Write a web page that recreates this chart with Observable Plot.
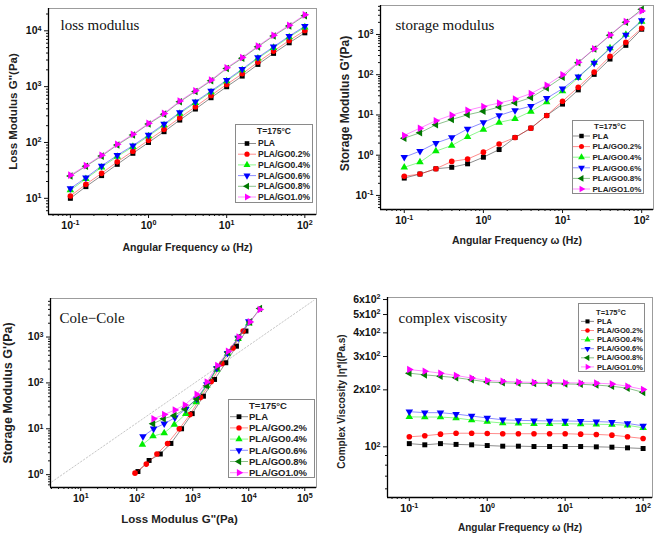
<!DOCTYPE html>
<html><head><meta charset="utf-8">
<script src="https://cdn.jsdelivr.net/npm/d3@7"></script>
<script src="https://cdn.jsdelivr.net/npm/@observablehq/plot@0.6"></script>
<style>
body{margin:0;background:#fff;}
#chart{position:relative;width:661px;height:534px;overflow:hidden;background:#fff;}
#chart svg{position:absolute;}
</style></head><body><div id="chart"></div>
<script>
// ---------- data ----------
const seriesNames = ["PLA","PLA/GO0.2%","PLA/GO0.4%","PLA/GO0.6%","PLA/GO0.8%","PLA/GO1.0%"];
const seriesColors = ["#000000","#ff0000","#00ee00","#0000ff","#007800","#ff00ff"];
const legendTitle = "T=175°C";
const freq = [0.1,0.158,0.251,0.398,0.631,1,1.58,2.51,3.98,6.31,10,15.8,25.1,39.8,63.1,100];

// loss modulus G'' (Pa)
const lossPLA  = [10,16.2,25.5,40.6,64,100,156,252,397,633,996,1545,2500,3940,6100,9200];
const lossGO02 = [11,17.8,28,45,70,110,172,277,437,697,1095,1700,2750,4330,6710,10100];
const lossGO04 = [14,22.3,36,56,84,130,205,330,515,800,1255,1980,3200,4980,7700,11600];
const lossGO06 = [15,23.4,38,59,88,136,214,346,537,834,1310,2060,3330,5180,8030,12100];
const lossGO08 = [25,37.5,57,90,136,214,322,535,820,1270,2110,3230,5160,8100,12200,18700];
const lossGO10 = [26,38.5,59,93,140,220,332,552,845,1310,2180,3330,5320,8360,12600,19300];

// storage modulus G' (Pa)
const storPLA  = [0.27,0.34,0.46,0.50,0.61,0.89,1.38,2.75,4.7,9.7,18.6,42,102,245,537,1350];
const storGO02 = [0.30,0.34,0.46,0.70,0.80,1.19,1.9,2.75,4.7,9.7,22,49,116,286,638,1430];
const storGO04 = [0.50,0.67,1.26,1.74,2.86,4.35,6.5,8.0,12.2,20.9,39,84,199,461,990,2090];
const storGO06 = [0.89,1.26,2.0,2.75,4.5,6.5,9.7,13,16.6,26,45,89,195,444,973,2250];
const storGO08 = [2.65,3.6,5.7,7.7,10.1,12.4,15.7,20,27,47,87,199,435,955,2010,4240];
const storGO10 = [3.1,4.7,7.2,9.9,13,16.3,19.7,24.8,34,55,100,203,444,973,2090,3850];

// complex viscosity |eta*| (Pa.s)
const viscPLA  = [104,102.5,104,103,102.5,101.6,100.8,100.8,100.4,100.4,100.4,100.4,100,99.6,98.8,98];
const viscGO02 = [113,114.4,116.7,118,118,117.7,117.3,117.3,117.3,117.3,117.3,116.7,116.3,115.3,113,110.7];
const viscGO04 = [144,143.7,143.7,142,138.5,135.8,133.6,133,132.5,132.5,132.5,132,131.6,131.2,130,126];
const viscGO06 = [153.4,151.5,151.5,149,145.5,142,139,138,137.5,137,137,136.5,136,135,133,129];
const viscGO08 = [245,240,236,232,226,220,218,216.5,216,216,215,214,212,209,204,194];
const viscGO10 = [256,251,245,238,231,224,222,220,219,219,218,217.5,217,215,209,201];

// Cole-Cole: G'' (x) vs G' (y)
const colePLAx  = [105,166,263,407,631,977,1550,2450,3890,6030,8910];
const colePLAy  = [1.17,2.04,2.82,4.79,10.0,21.4,51.3,119,275,631,1350];
const coleGO02x = [93,148,229,355,575,891,1380,2140,3310,5250,7940];
const coleGO02y = [1.08,1.70,2.82,4.79,10.0,20.4,47.9,107,263,575,1350];
const coleGO04x = [126,195,309,468,750,1150,1780,2690,4170,6460,10000];
const coleGO04y = [4.5,6.9,8.1,12.3,21.1,38,87,195,437,912,2000];
const coleGO06x = [129,200,309,479,750,1175,1780,2690,4170,6460,10000];
const coleGO06y = [6.8,10,12.9,17.4,26.9,44.7,93,209,447,955,2190];
const coleGO08x = [195,302,468,724,1175,1780,2750,4270,6610,10500,15800];
const coleGO08y = [12.9,16.6,19.5,26.9,44.7,87,219,468,1000,2140,4170];
const coleGO10x = [200,309,479,724,1175,1780,2750,4270,6610,10500,15800];
const coleGO10y = [16.6,20.4,25.7,33.1,56.2,105,240,490,1000,2140,3980];
const coleRefX = [2.7,145000];
const coleRefY = [0.63,6300];

// tick values
const freqTicks = [0.1,1,10,100];
const lossTicks = [10,100,1000,10000];
const storTicks = [0.1,1,10,100,1000];
const coleXTicks = [10,100,1000,10000,100000];
const coleYTicks = [1,10,100,1000];
const viscTicks = [100,200,300,400,500,600];
const viscTickLabels = ["10^2","2x10^2","3x10^2","4x10^2","5x10^2","6x10^2"];

// ---------- helpers ----------
const SQ3 = Math.sqrt(3);
function triSym(deg){
  const a = deg*Math.PI/180, c = Math.cos(a), s = Math.sin(a);
  return {draw(ctx, size){
    const y = -Math.sqrt(size/(SQ3*3));
    [[0,y*2],[-SQ3*y,-y],[SQ3*y,-y]].forEach(([px,py],i)=>{
      const X = px*c - py*s, Y = px*s + py*c;
      i ? ctx.lineTo(X,Y) : ctx.moveTo(X,Y);
    });
    ctx.closePath();
  }};
}
const seriesSymbols = [d3.symbolSquare, d3.symbolCircle, triSym(0), triSym(180), triSym(-90), triSym(90)];
function minors(lo, hi){
  const out = [];
  for (let e = Math.floor(Math.log10(lo)); e <= Math.ceil(Math.log10(hi)); e++)
    for (let m = 2; m <= 9; m++){ const v = m*Math.pow(10,e); if (v>=lo && v<=hi) out.push(v); }
  return out;
}
const decade = v => "10^" + Math.round(Math.log10(v));
const SANS = '"Liberation Sans", Arial, "DejaVu Sans", sans-serif';
const SERIF = '"Liberation Serif", "Times New Roman", serif';

function supify(svg){
  d3.select(svg).selectAll("text").each(function(){
    const t = this.textContent;
    if (!t.includes("^")) return;
    const [base, exp] = t.split("^");
    const sel = d3.select(this); sel.text(null);
    sel.append("tspan").text(base);
    sel.append("tspan").attr("dy","-0.5em").attr("font-size","68%").text(exp);
  });
}

function panel(p){
  const marks = [Plot.frame({stroke:"#9c9c9c", strokeWidth:1})];
  if (p.extra) marks.push(...p.extra);
  p.series.forEach((s,k)=>{
    const rows = s.x.map((x,i)=>({x, y:s.y[i]}));
    marks.push(Plot.line(rows,{x:"x",y:"y",stroke:seriesColors[k],strokeOpacity:0.45,strokeWidth:1}));
    marks.push(Plot.dot(rows,{x:"x",y:"y",symbol:seriesSymbols[k],fill:seriesColors[k],stroke:"none",r:2.8}));
  });
  marks.push(Plot.ruleX([p.xDomain[0]],{stroke:"#000",strokeWidth:1.3}));
  marks.push(Plot.ruleY([p.yDomain[0]],{stroke:"#000",strokeWidth:1.3}));
  marks.push(Plot.axisX({ticks:p.xMajor,tickFormat:p.xFormat,tickSize:4,tickPadding:3,label:null,fontSize:p.tickFont}));
  marks.push(Plot.axisX({ticks:minors(p.xDomain[0],p.xDomain[1]),tickFormat:()=>"",tickSize:2,label:null}));
  marks.push(Plot.axisY({ticks:p.yMajor,tickFormat:p.yFormat,tickSize:4,tickPadding:3,label:null,fontSize:p.tickFont}));
  marks.push(Plot.axisY({ticks:p.yMinor || minors(p.yDomain[0],p.yDomain[1]),tickFormat:()=>"",tickSize:2,label:null}));
  marks.push(Plot.text([p.title],{frameAnchor:"top-left",dx:p.titleDx,dy:p.titleDy,textAnchor:"start",lineAnchor:"middle",fontFamily:SERIF,fontWeight:"normal",fontSize:15,fill:"#111"}));
  marks.push(Plot.text([p.xLabel],{frameAnchor:"bottom",dx:p.xLabelDx||0,dy:p.xLabelDy,textAnchor:"middle",lineAnchor:"middle",fontSize:p.xLabelFont,fill:"#222"}));
  marks.push(Plot.text([p.yLabel],{frameAnchor:"left",dx:p.yLabelDx,dy:p.yLabelDy||0,rotate:-90,textAnchor:"middle",lineAnchor:"middle",fontSize:p.yLabelFont,fill:"#222"}));
  const svg = Plot.plot({
    width:p.width,height:p.height,
    marginTop:p.m[0],marginRight:p.m[1],marginBottom:p.m[2],marginLeft:p.m[3],
    x:{type:"log",domain:p.xDomain},
    y:{type:"log",domain:p.yDomain},
    style:{fontFamily:SANS,fontWeight:"bold",fontSize:"10.5px",color:"#111",background:"transparent",overflow:"visible"},
    marks
  });
  supify(svg);
  svg.style.left = p.left+"px"; svg.style.top = p.top+"px";
  document.getElementById("chart").appendChild(svg);
}

function legend(c){
  const svg = d3.select("#chart").append("svg")
    .style("left",c.left+"px").style("top",c.top+"px")
    .attr("width",c.w).attr("height",c.h);
  svg.append("rect").attr("x",0.5).attr("y",0.5).attr("width",c.w-1).attr("height",c.h-1)
    .attr("fill","#fff").attr("stroke","#8a8a8a").attr("stroke-width",1);
  svg.append("text").attr("x",c.titleX).attr("y",c.titleY).attr("text-anchor","middle").attr("dy","0.35em")
    .attr("font-family",SANS).attr("font-weight","bold").attr("font-size",c.font).attr("fill","#222").text(legendTitle);
  seriesNames.forEach((n,k)=>{
    const y = c.row0 + k*c.step;
    svg.append("line").attr("x1",c.l0).attr("x2",c.l1).attr("y1",y).attr("y2",y)
      .attr("stroke",seriesColors[k]).attr("stroke-opacity",0.45);
    svg.append("path").attr("transform",`translate(${(c.l0+c.l1)/2},${y})`)
      .attr("d",d3.symbol().type(seriesSymbols[k]).size(Math.PI*c.r*c.r)()).attr("fill",seriesColors[k]);
    svg.append("text").attr("x",c.tx).attr("y",y).attr("dy","0.35em")
      .attr("font-family",SANS).attr("font-weight","bold").attr("font-size",c.font).attr("fill","#222").text(n);
  });
}

// ---------- panels ----------
panel({left:0,top:0,width:330,height:262,m:[8,14,48,48],
  xDomain:[0.0525,141],yDomain:[5.13,25100],xMajor:freqTicks,yMajor:lossTicks,
  xFormat:decade,yFormat:decade,tickFont:10.5,
  series:[lossPLA,lossGO02,lossGO04,lossGO06,lossGO08,lossGO10].map(y=>({x:freq,y})),
  title:"loss modulus",titleDx:12,titleDy:17,
  xLabel:"Angular Frequency ω (Hz)",xLabelDx:5,xLabelDy:33,xLabelFont:10.5,
  yLabel:"Loss Modulus G''(Pa)",yLabelDx:-35,yLabelFont:11.5});

panel({left:330,top:0,width:331,height:262,m:[5,8,53,50],
  xDomain:[0.0501,141],yDomain:[0.0447,5250],xMajor:freqTicks,yMajor:storTicks,
  xFormat:decade,yFormat:decade,tickFont:10.5,
  series:[storPLA,storGO02,storGO04,storGO06,storGO08,storGO10].map(y=>({x:freq,y})),
  title:"storage modulus",titleDx:15,titleDy:20,
  xLabel:"Angular Frequency ω (Hz)",xLabelDy:31,xLabelFont:10.5,
  yLabel:"Storage Modulus G'(Pa)",yLabelDx:-35,yLabelDy:-4,yLabelFont:12});

panel({left:0,top:270,width:330,height:264,m:[28,14,47,50],
  xDomain:[2.88,162000],yDomain:[0.525,6920],xMajor:coleXTicks,yMajor:coleYTicks,
  xFormat:decade,yFormat:decade,tickFont:10.5,
  series:[[colePLAx,colePLAy],[coleGO02x,coleGO02y],[coleGO04x,coleGO04y],[coleGO06x,coleGO06y],[coleGO08x,coleGO08y],[coleGO10x,coleGO10y]].map(([x,y])=>({x,y})),
  extra:[Plot.line(coleRefX.map((x,i)=>({x,y:coleRefY[i]})),{x:"x",y:"y",stroke:"#b8b8b8",strokeWidth:0.8,strokeDasharray:"1.5,2"})],
  title:"Cole\u2212Cole",titleDx:9,titleDy:20,
  xLabel:"Loss Modulus G''(Pa)",xLabelDx:-4,xLabelDy:32,xLabelFont:11.5,
  yLabel:"Storage Modulus G'(Pa)",yLabelDx:-43,yLabelFont:12.5});

panel({left:330,top:270,width:331,height:264,m:[27,9,37,57],
  xDomain:[0.0525,132],yDomain:[54,615],xMajor:freqTicks,yMajor:viscTicks,yMinor:[60,70,80,90],
  xFormat:decade,yFormat:v=>viscTickLabels[viscTicks.indexOf(v)],tickFont:10.5,
  series:[viscPLA,viscGO02,viscGO04,viscGO06,viscGO08,viscGO10].map(y=>({x:freq,y})),
  title:"complex viscosity",titleDx:11,titleDy:21,
  xLabel:"Angular Frequency ω (Hz)",xLabelDy:30,xLabelFont:10,
  yLabel:"Complex Viscosity |η*|(Pa.s)",yLabelDx:-46,yLabelDy:4,yLabelFont:10});

// ---------- legends ----------
legend({left:235,top:124,w:78,h:79,font:8.5,titleX:39,titleY:7,row0:19.5,step:10.7,l0:3,l1:21,tx:23,r:2.6});
legend({left:572,top:120,w:72,h:74,font:8,titleX:38,titleY:6,row0:16,step:10.6,l0:1,l1:18,tx:20.5,r:2.5});
legend({left:228,top:399,w:87,h:79,font:9.5,titleX:40,titleY:7,row0:17.7,step:11.2,l0:2,l1:20,tx:21,r:2.7});
legend({left:578,top:303,w:67,h:69,font:7.5,titleX:33,titleY:9,row0:18.4,step:9.1,l0:3,l1:16,tx:19,r:2.3});
</script></body></html>
